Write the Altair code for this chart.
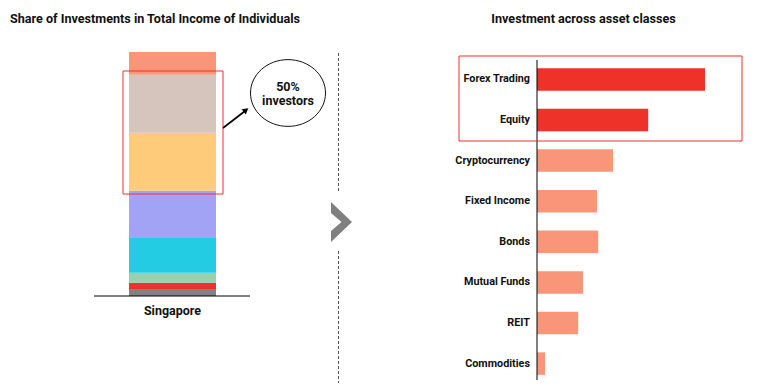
import altair as alt
import pandas as pd

# ---------------- data ----------------
country = ["Singapore"]
segments = ["Seg 1", "Seg 2", "Seg 3", "Seg 4", "Seg 5", "Seg 6", "Seg 7", "Seg 8"]  # bottom -> top
segment_share = [2.9, 2.5, 4.1, 14.3, 19.3, 23.8, 23.8, 9.3]
segment_colors = ["#828282", "#ee3129", "#96d2b2", "#23cbe3", "#a3a3f6", "#fecb7b", "#d5c5bd", "#f9967a"]

assets = ["Forex Trading", "Equity", "Cryptocurrency", "Fixed Income", "Bonds",
          "Mutual Funds", "REIT", "Commodities"]
asset_values = [42, 27.8, 19, 15, 15.3, 11.5, 10.3, 2]
asset_highlight = [True, True, False, False, False, False, False, False]

left_title = "Share of Investments in Total Income of Individuals"
right_title = "Investment across asset classes"
callout = ["50%", "investors"]

FONT = "Roboto"
RED = "#ee3129"
SALMON = "#f9967a"
INK = "#111111"

stack_df = pd.DataFrame({
    "country": country * len(segments),
    "segment": segments,
    "share": segment_share,
    "idx": list(range(len(segments))),
})
asset_df = pd.DataFrame({
    "asset": assets,
    "value": asset_values,
    "color": [RED if h else SALMON for h in asset_highlight],
})
one = pd.DataFrame({"a": [1]})

# ---------------- scales ----------------
x_country = alt.Scale(domain=country, range=[121, 208], paddingInner=0, paddingOuter=0)
y_share = alt.Scale(domain=[0, 100], range=[288, 44], nice=False)
y_asset = alt.Scale(domain=assets, range=[51, 376], paddingInner=0.446, paddingOuter=0.226)
x_asset = alt.Scale(domain=[0, 50], range=[529, 729], nice=False)

# ---------------- left stacked bar ----------------
stack = alt.Chart(stack_df).mark_bar().encode(
    x=alt.X("country:N", scale=x_country, axis=None),
    y=alt.Y("share:Q", stack="zero", scale=y_share, axis=None),
    color=alt.Color("segment:N", scale=alt.Scale(domain=segments, range=segment_colors), legend=None),
    order=alt.Order("idx:Q", sort="ascending"),
)
country_label = alt.Chart(pd.DataFrame({"country": country})).mark_text(
    font=FONT, fontSize=12.5, fontWeight="bold", color=INK, baseline="middle"
).encode(
    x=alt.X("country:N", scale=x_country, axis=None),
    y=alt.value(303),
    text="country:N",
)
baseline = alt.Chart(one).mark_rule(color="#000", strokeWidth=1).encode(
    x=alt.value(86), x2=alt.value(242), y=alt.value(288)
)
left_box = alt.Chart(one).mark_rect(fillOpacity=0, stroke=RED, strokeWidth=1).encode(
    x=alt.value(115), x2=alt.value(215), y=alt.value(63), y2=alt.value(186)
)
ellipse = alt.Chart(one).mark_point(
    shape="M-1,0A1,0.89,0,1,1,1,0A1,0.89,0,1,1,-1,0Z",
    filled=False, stroke=INK, strokeWidth=1, size=75 * 75, opacity=1,
).encode(x=alt.value(280), y=alt.value(85))
callout_df = pd.DataFrame({"t": callout, "yy": [78.5, 92.5]})
callout_text = alt.Chart(callout_df).mark_text(
    font=FONT, fontSize=12.5, fontWeight="bold", color=INK, baseline="middle"
).encode(x=alt.value(280), y=alt.Y("yy:Q", scale=None), text="t:N")
arrow_line = alt.Chart(one).mark_rule(color="#000", strokeWidth=1.6).encode(
    x=alt.value(215), y=alt.value(120), x2=alt.value(237), y2=alt.value(103)
)
arrow_head = alt.Chart(one).mark_point(
    shape="triangle-up", filled=True, color="#000", size=45, angle=52, opacity=1
).encode(x=alt.value(238), y=alt.value(102))

# ---------------- divider ----------------
dash_df = pd.DataFrame({"y1": [45, 243], "y2": [183, 375]})
dashes = alt.Chart(dash_df).mark_rule(color="#555", strokeWidth=1, strokeDash=[3, 2]).encode(
    x=alt.value(330.5), y=alt.Y("y1:Q", scale=None), y2="y2:Q"
)
chevron = alt.Chart(one).mark_point(
    shape="M-0.525,-1L0.525,0L-0.525,1L-0.525,0.45L0,0L-0.525,-0.45Z",
    filled=True, color="#808080", size=1600, opacity=1,
).encode(x=alt.value(333.5), y=alt.value(214))

# ---------------- right bar chart ----------------
bars = alt.Chart(asset_df).mark_bar().encode(
    y=alt.Y("asset:N", scale=y_asset, axis=None, sort=assets),
    x=alt.X("value:Q", scale=x_asset, axis=None),
    color=alt.Color("color:N", scale=None, legend=None),
)
labels = alt.Chart(asset_df).mark_text(
    font=FONT, fontSize=10.8, fontWeight="bold", color=INK, align="right", baseline="middle"
).encode(
    y=alt.Y("asset:N", scale=y_asset, axis=None, sort=assets),
    x=alt.value(522),
    text="asset:N",
)
axis_line = alt.Chart(one).mark_rule(color="#000", strokeWidth=1).encode(
    x=alt.value(529), y=alt.value(52), y2=alt.value(372)
)
right_box = alt.Chart(one).mark_rect(fillOpacity=0, stroke=RED, strokeWidth=1).encode(
    x=alt.value(451), x2=alt.value(734), y=alt.value(48), y2=alt.value(133)
)

# ---------------- titles ----------------
title_left = alt.Chart(one).mark_text(
    font=FONT, fontSize=12.6, fontWeight="bold", color=INK, align="left", baseline="middle"
).encode(x=alt.value(2), y=alt.value(11), text=alt.value(left_title))
title_right = alt.Chart(one).mark_text(
    font=FONT, fontSize=12.6, fontWeight="bold", color=INK, align="center", baseline="middle"
).encode(x=alt.value(575.5), y=alt.value(11), text=alt.value(right_title))

chart = alt.layer(
    stack, baseline, country_label, left_box, ellipse, callout_text, arrow_line, arrow_head,
    dashes, chevron,
    bars, labels, axis_line, right_box,
    title_left, title_right,
).resolve_scale(
    x="independent", y="independent", color="independent"
).properties(
    width=741, height=375, padding=0, autosize=alt.AutoSizeParams(type="none")
).configure_view(stroke=None)

chart.save("out.html", embed_options={"renderer": "svg", "actions": False})
